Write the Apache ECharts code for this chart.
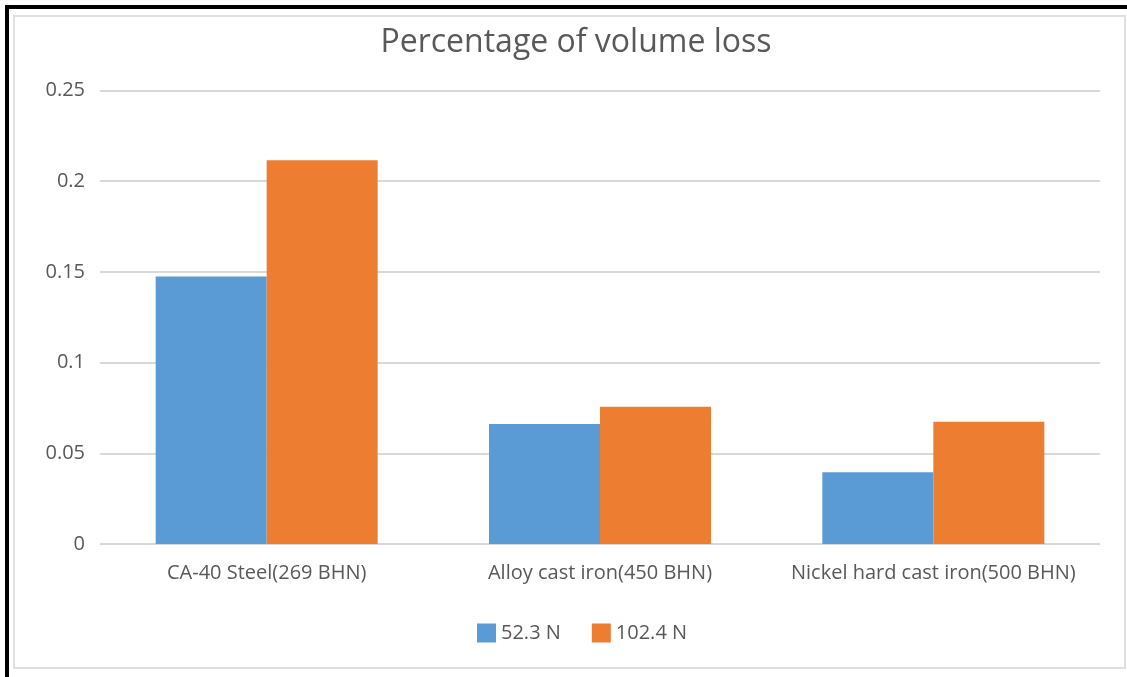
<!DOCTYPE html>
<html>
<head>
<meta charset="utf-8">
<script src="https://cdn.jsdelivr.net/npm/echarts@6/dist/echarts.min.js"></script>
<style>
  html, body { margin: 0; padding: 0; background: #fff; }
  #chart { width: 1127px; height: 677px; }
</style>
</head>
<body>
<div id="chart"></div>
<script>
// Volume loss per material under two loads
const categories = ['CA-40 Steel(269 BHN)', 'Alloy cast iron(450 BHN)', 'Nickel hard cast iron(500 BHN)'];
const load52 = [0.1475, 0.0661, 0.0395];
const load102 = [0.2115, 0.0757, 0.0674];
const seriesNames = ['52.3 N', '102.4 N'];

const chart = echarts.init(document.getElementById('chart'), null, { renderer: 'canvas' });
const textColor = '#595959';
const fontFamily = '"Open Sans", "Noto Sans", sans-serif';

chart.setOption({
  animation: false,
  textStyle: { fontFamily: fontFamily },
  title: {
    text: 'Percentage of volume loss',
    left: 571,
    top: 22,
    textAlign: 'center',
    textStyle: { fontFamily: fontFamily, fontSize: 32, fontWeight: 'normal', color: textColor }
  },
  graphic: [
    { type: 'rect', shape: { x: 14, y: 16, width: 1111, height: 652 },
      style: { fill: 'none', stroke: '#e0e0e0', lineWidth: 2 }, z: -1 },
    { type: 'rect', shape: { x: 5, y: 5, width: 4, height: 672 }, style: { fill: '#000' } },
    { type: 'rect', shape: { x: 5, y: 5, width: 1122, height: 4 }, style: { fill: '#000' } }
  ],
  legend: {
    data: seriesNames,
    left: 472,
    top: 618,
    itemWidth: 19,
    itemHeight: 19,
    itemGap: 31,
    icon: 'rect',
    textStyle: { fontFamily: fontFamily, fontSize: 20, color: textColor }
  },
  grid: { left: 100, right: 27, top: 90.5, bottom: 133, containLabel: false },
  xAxis: {
    type: 'category',
    data: categories,
    axisLine: { show: true, lineStyle: { color: '#d9d9d9', width: 1 } },
    axisTick: { show: false },
    axisLabel: { interval: 0, hideOverlap: false, fontFamily: fontFamily, fontSize: 20, color: textColor, margin: 19 }
  },
  yAxis: {
    type: 'value',
    min: 0,
    max: 0.25,
    interval: 0.05,
    axisLine: { show: false },
    axisTick: { show: false },
    splitLine: { lineStyle: { color: '#d9d9d9', width: 2 } },
    axisLabel: {
      fontFamily: fontFamily, fontSize: 20, color: textColor, margin: 15,
      align: 'right',
      formatter: function (v) { return v === 0 ? '0' : String(parseFloat(v.toFixed(2))); }
    }
  },
  series: [
    { name: seriesNames[0], type: 'bar', data: load52, barWidth: '33.3%', barGap: '0%',
      itemStyle: { color: '#5b9bd5' } },
    { name: seriesNames[1], type: 'bar', data: load102, barWidth: '33.3%',
      itemStyle: { color: '#ed7d31' } }
  ]
});
</script>
</body>
</html>
